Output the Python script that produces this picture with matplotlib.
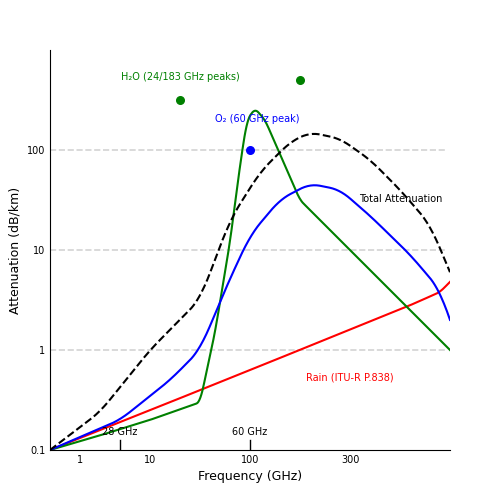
import numpy as np
from matplotlib import pyplot as plt

# x is a warped frequency axis (0..400), ticks relabelled as GHz
tick_pos = [30, 100, 200, 300]
tick_lab = ["1", "10", "100", "300"]

rain_x = [0, 100, 200, 300, 360, 390, 400]
rain_y = [0.1, 0.25, 0.63, 1.6, 2.8, 3.8, 4.8]

h2o_x = [0, 50, 100, 150, 165, 180, 190, 197, 205, 215, 250, 400]
h2o_y = [0.1, 0.14, 0.2, 0.3, 1.5, 12, 70, 200, 260, 200, 31.6, 1]

o2_x = [0, 70, 120, 150, 175, 200, 230, 260, 290, 320, 360, 390, 400]
o2_y = [0.1, 0.2, 0.5, 1, 4, 14, 32, 46, 40, 22, 9, 4, 2]

tot_x = [0, 50, 100, 150, 165, 180, 210, 240, 260, 290, 320, 350, 380, 400]
tot_y = [0.1, 0.24, 1, 3.2, 8, 20, 60, 120, 150, 130, 80, 40, 18, 6]

h2o_dots_x = [130, 250]
h2o_dots_y = [316, 500]
o2_dot_x = [200]
o2_dot_y = [100]


def smooth(x, y, w=21, n=400):
    xs = np.linspace(x[0], x[-1], n)
    ly = np.interp(xs, x, np.log10(y))
    k = np.ones(w) / w
    pad = np.pad(ly, w // 2, mode="reflect", reflect_type="odd")
    return xs, 10 ** np.convolve(pad, k, mode="valid")


fig = plt.figure(figsize=(5, 5), dpi=100)
ax = fig.add_axes([0.1, 0.1, 0.8, 0.8])
ax.set_yscale("log")
ax.set_xlim(0, 400)
ax.set_ylim(0.1, 1000)

for v in [1, 10, 100]:
    ax.axhline(v, color="lightgray", ls="--", lw=1.2, xmax=0.99)

ax.plot(*smooth(rain_x, rain_y, 9), color="red", lw=1.5)
ax.plot(*smooth(h2o_x, h2o_y, 7), color="green", lw=1.5)
ax.plot(*smooth(o2_x, o2_y), color="blue", lw=1.5)
ax.plot(*smooth(tot_x, tot_y), color="black", ls="--", lw=1.5)
ax.scatter(h2o_dots_x, h2o_dots_y, color="green", s=30, zorder=3)
ax.scatter(o2_dot_x, o2_dot_y, color="blue", s=30, zorder=3)

ax.text(130, 500, "H₂O (24/183 GHz peaks)", color="green", fontsize=7, ha="center")
ax.text(207, 190, "O₂ (60 GHz peak)", color="blue", fontsize=7, ha="center")
ax.text(351, 30, "Total Attenuation", color="black", fontsize=7, ha="center")
ax.text(300, 0.5, "Rain (ITU-R P.838)", color="red", fontsize=7, ha="center")

for xp, lab in [(70, "28 GHz"), (200, "60 GHz")]:
    ax.plot([xp, xp], [0.1, 0.125], color="black", lw=1)
    ax.text(xp, 0.14, lab, fontsize=7, ha="center")

ax.set_xticks(tick_pos)
ax.set_xticklabels(tick_lab, fontsize=7)
ax.set_yticks([0.1, 1, 10, 100])
ax.set_yticklabels(["0.1", "1", "10", "100"], fontsize=7)
ax.minorticks_off()
ax.tick_params(length=0)
ax.spines["top"].set_visible(False)
ax.spines["right"].set_visible(False)
ax.set_xlabel("Frequency (GHz)", fontsize=9, labelpad=4)
ax.set_ylabel("Attenuation (dB/km)", fontsize=9)

fig.savefig("out.png")
